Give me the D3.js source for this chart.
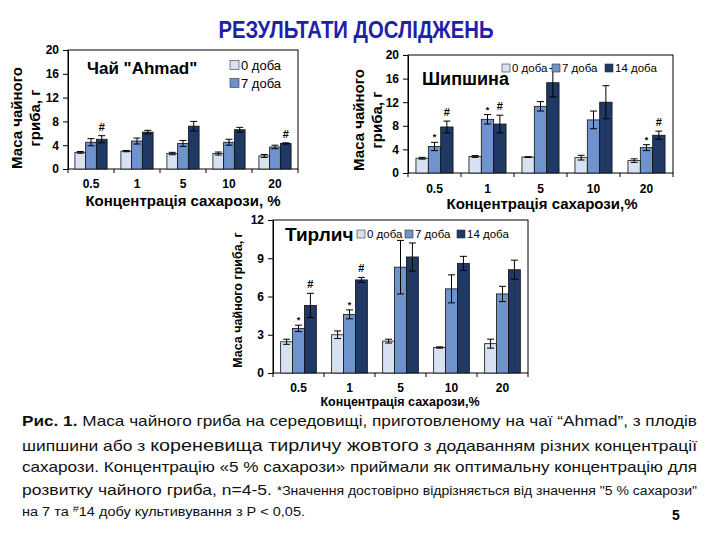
<!DOCTYPE html>
<html>
<head>
<meta charset="utf-8">
<script src="https://cdn.jsdelivr.net/npm/d3@7"></script>
<style>
  body { margin: 0; background: #fff; }
  svg { font-family: "Liberation Sans", Arial, sans-serif; }
</style>
</head>
<body>
<svg id="page" width="720" height="540"></svg>
<script>
var cats = ["0.5", "1", "5", "10", "20"];
var days = ["0 доба", "7 доба", "14 доба"];

// Чай "Ahmad"
var ahmad0 = [2.8, 3.0, 2.6, 2.6, 2.2];
var ahmad0Err = [0.15, 0.1, 0.2, 0.25, 0.25];
var ahmad7 = [4.5, 4.7, 4.3, 4.5, 3.7];
var ahmad7Err = [0.6, 0.5, 0.5, 0.5, 0.3];
var ahmad14 = [5.0, 6.2, 7.2, 6.6, 4.3];
var ahmad14Err = [0.6, 0.3, 0.8, 0.4, 0.1];
var ahmadStar = ["", "", "", "", ""];
var ahmadHash = ["#", "", "", "", "#"];

// Шипшина
var rose0 = [2.5, 2.8, 2.7, 2.6, 2.1];
var rose0Err = [0.15, 0.15, 0.05, 0.4, 0.3];
var rose7 = [4.5, 9.1, 11.3, 9.0, 4.3];
var rose7Err = [0.7, 0.8, 0.8, 1.5, 0.5];
var rose14 = [7.8, 8.3, 15.3, 12.0, 6.4];
var rose14Err = [1.0, 1.5, 2.4, 2.8, 0.7];
var roseStar = ["*", "*", "", "", "*"];
var roseHash = ["#", "#", "", "", "#"];

// Тирлич
var gent0 = [2.45, 3.0, 2.5, 2.0, 2.3];
var gent0Err = [0.2, 0.3, 0.15, 0.05, 0.35];
var gent7 = [3.5, 4.6, 8.3, 6.6, 6.2];
var gent7Err = [0.25, 0.35, 2.1, 1.1, 0.6];
var gent14 = [5.3, 7.3, 9.1, 8.6, 8.1];
var gent14Err = [0.95, 0.2, 1.1, 0.55, 0.75];
var gentStar = ["*", "*", "", "", ""];
var gentHash = ["#", "#", "", "", ""];

var ticks20 = [0, 4, 8, 12, 16, 20];
var ticks12 = [0, 3, 6, 9, 12];

var colors = ["#d7e1f1", "#6f93cc", "#1f3864"];

var svg = d3.select("#page");

svg.append("text")
  .attr("x", 356).attr("y", 38)
  .attr("text-anchor", "middle")
  .attr("textLength", 275).attr("lengthAdjust", "spacingAndGlyphs")
  .style("font-size", "24px").style("font-weight", "bold")
  .attr("fill", "#1e22a6")
  .text("РЕЗУЛЬТАТИ ДОСЛІДЖЕНЬ");

function panel(o) {
  var g = svg.append("g");
  var x0 = d3.scaleBand().domain(cats).range([o.left, o.right]);
  var bw = x0.bandwidth();
  var x1 = d3.scaleBand().domain([0, 1, 2])
    .range([bw * 0.15, bw * 0.85]);
  var y = d3.scaleLinear().domain([0, o.max]).range([o.bottom, o.top]);

  // frame
  g.append("rect")
    .attr("x", o.left).attr("y", o.top)
    .attr("width", o.right - o.left).attr("height", o.bottom - o.top)
    .attr("fill", "none").attr("stroke", "#000").attr("stroke-width", 1);

  var series = o.series;
  series.forEach(function(s, i) {
    var bars = g.append("g");
    cats.forEach(function(c, j) {
      var bx = x0(c) + x1(i);
      bars.append("rect")
        .attr("x", bx).attr("y", y(s.v[j]))
        .attr("width", x1.bandwidth()).attr("height", y(0) - y(s.v[j]))
        .attr("fill", colors[i]).attr("stroke", "#111").attr("stroke-width", 0.8);
      var cx = bx + x1.bandwidth() / 2;
      var lo = y(s.v[j] - s.e[j]), hi = y(s.v[j] + s.e[j]);
      bars.append("line").attr("x1", cx).attr("x2", cx).attr("y1", lo).attr("y2", hi)
        .attr("stroke", "#000").attr("stroke-width", 1);
      [lo, hi].forEach(function(yy) {
        bars.append("line").attr("x1", cx - 3.5).attr("x2", cx + 3.5).attr("y1", yy).attr("y2", yy)
          .attr("stroke", "#000").attr("stroke-width", 1);
      });
      if (s.m && s.m[j]) {
        bars.append("text")
          .attr("x", cx).attr("y", hi - (s.m[j] == "#" ? 5 : 2))
          .attr("text-anchor", "middle")
          .style("font-size", s.m[j] == "#" ? "11px" : "9px")
          .style("font-weight", "bold")
          .text(s.m[j]);
      }
    });
  });

  var ya = g.append("g")
    .attr("transform", "translate(" + o.left + ",0)")
    .call(d3.axisLeft(y).tickValues(o.ticks).tickSize(5).tickSizeOuter(0).tickPadding(4));
  ya.selectAll("text").style("font-size", o.tickFont).style("font-weight", "bold")
    .attr("font-family", null);
  ya.select(".domain").attr("stroke", "#000");

  var xa = g.append("g")
    .attr("transform", "translate(0," + o.bottom + ")")
    .call(d3.axisBottom(x0).tickSize(0).tickPadding(o.xPad));
  xa.select(".domain").remove();
  xa.selectAll("text").style("font-size", o.tickFont).style("font-weight", "bold")
    .attr("font-family", null);
  cats.concat([null]).forEach(function(c) {
    var xx = c == null ? o.right : x0(c);
    g.append("line").attr("x1", xx).attr("x2", xx)
      .attr("y1", o.bottom).attr("y2", o.bottom + 4).attr("stroke", "#000");
  });

  // title inside plot
  g.append("text")
    .attr("x", o.titleX).attr("y", o.titleY)
    .style("font-size", o.titleFont).style("font-weight", "bold")
    .text(o.title);

  // legend
  o.legend.forEach(function(l, i) {
    var lx = o.legX[i], ly = o.legY[i];
    g.append("rect")
      .attr("x", lx).attr("y", ly - o.legSq / 2)
      .attr("width", o.legSq).attr("height", o.legSq)
      .attr("fill", colors[i]).attr("stroke", "#333").attr("stroke-width", 0.6);
    g.append("text")
      .attr("x", lx + o.legSq + 2).attr("y", ly)
      .attr("dy", "0.35em")
      .style("font-size", o.legFont)
      .text(l);
  });

  // axis titles
  g.append("text")
    .attr("x", o.xLabX).attr("y", o.xLabY)
    .attr("text-anchor", "middle")
    .style("font-size", o.labFont).style("font-weight", "bold")
    .text(o.xLabel);
  o.yLabel.forEach(function(t, i) {
    g.append("text")
      .attr("transform", "translate(" + o.yLabX[i] + "," + o.yLabY + ") rotate(-90)")
      .attr("text-anchor", "middle")
      .style("font-size", o.labFont).style("font-weight", "bold")
      .text(t);
  });
}

panel({
  left: 68, right: 298, top: 50, bottom: 169, max: 20, ticks: ticks20,
  series: [
    { v: ahmad0, e: ahmad0Err },
    { v: ahmad7, e: ahmad7Err, m: ahmadStar },
    { v: ahmad14, e: ahmad14Err, m: ahmadHash }
  ],
  tickFont: "12px", xPad: 10,
  title: "Чай \"Ahmad\"", titleX: 87, titleY: 74, titleFont: "17px",
  legend: days.slice(0, 2), legX: [230, 230], legY: [65, 83], legSq: 9, legFont: "13px",
  xLabel: "Концентрація сахарози, %", xLabX: 183, xLabY: 206, labFont: "15px",
  yLabel: ["Маса чайного", "гриба, г"], yLabX: [22, 40], yLabY: 118
});

panel({
  left: 408, right: 673, top: 55, bottom: 173, max: 20, ticks: ticks20,
  series: [
    { v: rose0, e: rose0Err },
    { v: rose7, e: rose7Err, m: roseStar },
    { v: rose14, e: rose14Err, m: roseHash }
  ],
  tickFont: "12px", xPad: 11,
  title: "Шипшина", titleX: 422, titleY: 85, titleFont: "18px",
  legend: days, legX: [502, 552, 605], legY: [68, 68, 68], legSq: 8, legFont: "11.5px",
  xLabel: "Концентрація сахарози,%", xLabX: 542, xLabY: 209, labFont: "15px",
  yLabel: ["Маса чайного", "гриба, г"], yLabX: [364, 382], yLabY: 120
});

panel({
  left: 273, right: 528, top: 220, bottom: 373, max: 12, ticks: ticks12,
  series: [
    { v: gent0, e: gent0Err },
    { v: gent7, e: gent7Err, m: gentStar },
    { v: gent14, e: gent14Err, m: gentHash }
  ],
  tickFont: "12px", xPad: 10,
  title: "Тирлич", titleX: 285, titleY: 241, titleFont: "19px",
  legend: days, legX: [357, 405, 457], legY: [234, 234, 234], legSq: 8, legFont: "11.5px",
  xLabel: "Концентрація сахарози,%", xLabX: 400, xLabY: 406, labFont: "12.5px",
  yLabel: ["Маса чайного гриба, г"], yLabX: [242], yLabY: 300
});

// caption
var capLines = [
  { y: 426, w: 675, parts: [["Рис. 1.", 15, "bold"], [" Маса чайного гриба на середовищі, приготовленому на чаї “Ahmad”, з плодів", 15]] },
  { y: 451, w: 675, parts: [["шипшини або з  ", 15], ["кореневища тирличу жовтого", 17], [" з додаванням різних концентрації", 15]] },
  { y: 472, w: 675, parts: [["сахарози. Концентрацію «5 % сахарози» приймали як  оптимальну концентрацію для", 15]] },
  { y: 495, w: 675, parts: [["розвитку чайного гриба, n=4-5. ", 15], ["*Значення достовірно відрізняється від значення \"5 % сахарози\"", 12]] },
  { y: 516, w: 283, parts: [["на 7 та ", 12], ["#", 9, "normal", -4], ["14 добу культивування з Р < 0,05.", 12]] }
];

capLines.forEach(function(l) {
  var t = svg.append("text")
    .attr("x", 22).attr("y", l.y)
    .attr("textLength", l.w).attr("lengthAdjust", "spacingAndGlyphs")
    .attr("fill", "#111");
  l.parts.forEach(function(p) {
    var ts = t.append("tspan")
      .style("font-size", p[1] + "px")
      .style("font-weight", p[2] || "normal")
      .text(p[0]);
    if (p[3]) ts.attr("dy", p[3]);
  });
  // return baseline after superscript
  t.selectAll("tspan").filter(function(d, i, n) {
    return i > 0 && l.parts[i - 1][3];
  }).attr("dy", function(d, i) { return 4; });
});

svg.append("text")
  .attr("x", 672).attr("y", 520)
  .style("font-size", "14px").style("font-weight", "bold")
  .text("5");
</script>
</body>
</html>
